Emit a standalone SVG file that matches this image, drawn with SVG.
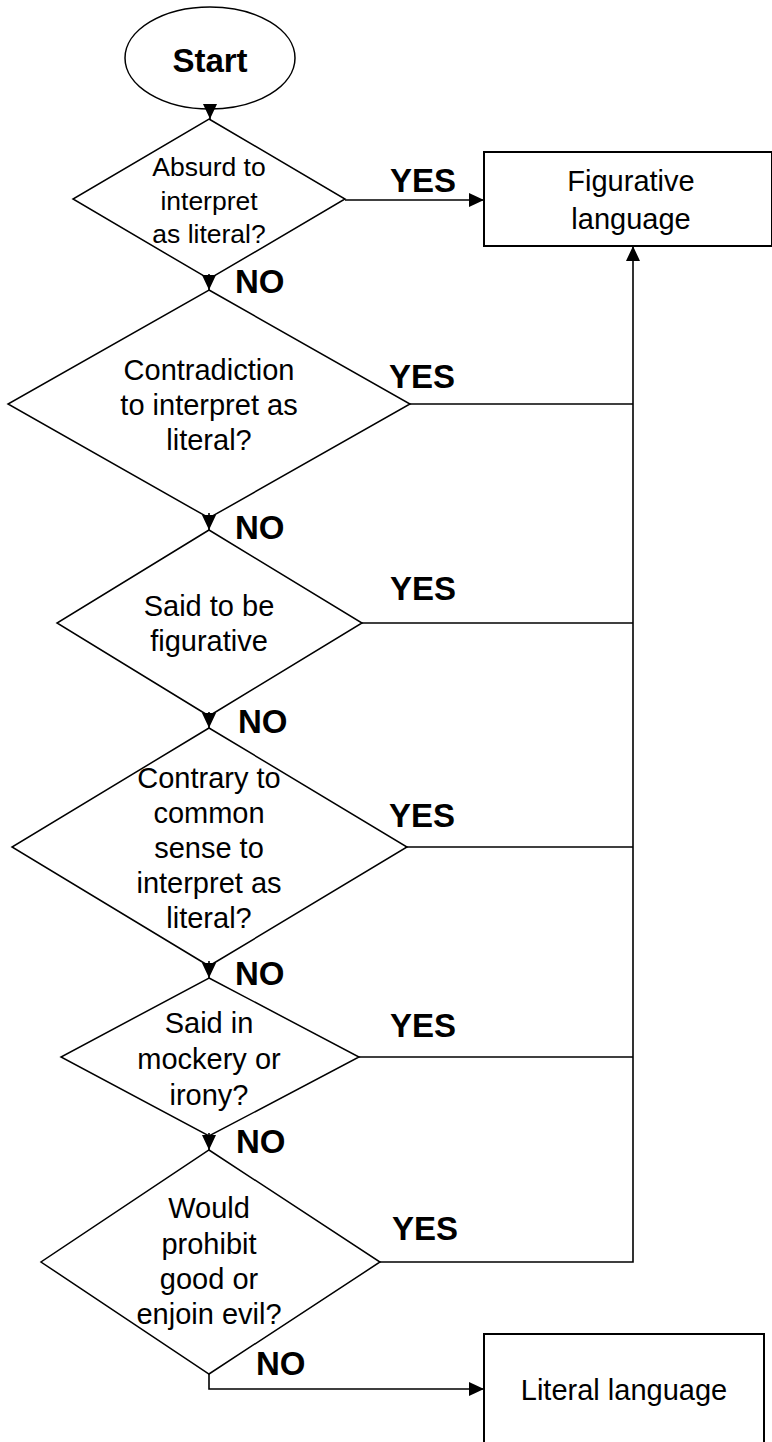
<svg xmlns="http://www.w3.org/2000/svg" width="772" height="1442" viewBox="0 0 772 1442">
<style>
.shape{fill:#fff;stroke:#000;stroke-width:1.5}
.box{fill:#fff;stroke:#000;stroke-width:2}
.conn{fill:none;stroke:#000;stroke-width:1.6}
.t{font-family:"Liberation Sans",Arial,sans-serif;font-size:29px;fill:#000;text-anchor:middle}
.t1{font-size:26.5px}
.lbl{font-family:"Liberation Sans",Arial,sans-serif;font-size:33px;font-weight:bold;fill:#000}
</style>
<defs>
<marker id="ah" markerWidth="15" markerHeight="14" refX="15" refY="7" orient="auto" markerUnits="userSpaceOnUse">
<path d="M0,0 L15,7 L0,14 Z" fill="#000"/>
</marker>
<marker id="ahs" markerWidth="15" markerHeight="14" refX="15" refY="7" orient="auto" markerUnits="userSpaceOnUse">
<path d="M0,0 L15,7 L0,14 Z" fill="#000"/>
</marker>
</defs>
<g id="start">
<ellipse class="shape" cx="210" cy="58" rx="85" ry="51"/>
<text class="lbl" x="210" y="72" text-anchor="middle" font-size="34">Start</text>
</g>
<g id="d1">
<polygon class="shape" points="209,119 345,199 209,279 73,199"/>
<text class="t t1" x="209"><tspan x="209" y="176">Absurd to</tspan><tspan x="209" y="210">interpret</tspan><tspan x="209" y="243">as literal?</tspan></text>
</g>
<g id="d2">
<polygon class="shape" points="209,290 410,404 209,518 8,404"/>
<text class="t"><tspan x="209" y="380">Contradiction</tspan><tspan x="209" y="415">to interpret as</tspan><tspan x="209" y="450">literal?</tspan></text>
</g>
<g id="d3">
<polygon class="shape" points="209,530 362,623 209,716 57,623"/>
<text class="t"><tspan x="209" y="616">Said to be</tspan><tspan x="209" y="651">figurative</tspan></text>
</g>
<g id="d4">
<polygon class="shape" points="209,728 407,847 209,966 12,847"/>
<text class="t"><tspan x="209" y="788">Contrary to</tspan><tspan x="209" y="823">common</tspan><tspan x="209" y="858">sense to</tspan><tspan x="209" y="893">interpret as</tspan><tspan x="209" y="928">literal?</tspan></text>
</g>
<g id="d5">
<polygon class="shape" points="209,978 359,1057 209,1136 61,1057"/>
<text class="t"><tspan x="209" y="1033">Said in</tspan><tspan x="209" y="1069">mockery or</tspan><tspan x="209" y="1105">irony?</tspan></text>
</g>
<g id="d6">
<polygon class="shape" points="209,1150 380,1262 209,1374 41,1262"/>
<text class="t"><tspan x="209" y="1218">Would</tspan><tspan x="209" y="1254">prohibit</tspan><tspan x="209" y="1289">good or</tspan><tspan x="209" y="1324">enjoin evil?</tspan></text>
</g>
<g id="figurative">
<rect class="box" x="484" y="152" width="288" height="94"/>
<text class="t"><tspan x="631" y="191">Figurative</tspan><tspan x="631" y="229">language</tspan></text>
</g>
<g id="literal">
<rect class="box" x="484" y="1334" width="280" height="130"/>
<text class="t" x="624" y="1400">Literal language</text>
</g>
<g id="connectors">
<line class="conn" x1="210" y1="104" x2="210" y2="119" marker-end="url(#ahs)"/>
<line class="conn" x1="345" y1="200" x2="484" y2="200" marker-end="url(#ah)"/>
<line class="conn" x1="209" y1="274" x2="209" y2="290" marker-end="url(#ahs)"/>
<line class="conn" x1="209" y1="513" x2="209" y2="530" marker-end="url(#ahs)"/>
<line class="conn" x1="209" y1="712" x2="209" y2="728" marker-end="url(#ahs)"/>
<line class="conn" x1="209" y1="961" x2="209" y2="978" marker-end="url(#ahs)"/>
<line class="conn" x1="209" y1="1133" x2="209" y2="1150" marker-end="url(#ahs)"/>
<line class="conn" x1="410" y1="404" x2="633" y2="404"/>
<line class="conn" x1="362" y1="623" x2="633" y2="623"/>
<line class="conn" x1="407" y1="847" x2="633" y2="847"/>
<line class="conn" x1="359" y1="1057" x2="633" y2="1057"/>
<polyline class="conn" points="380,1262 633,1262 633,246" marker-end="url(#ah)"/>
<polyline class="conn" points="209,1374 209,1389 484,1389" marker-end="url(#ah)"/>
</g>
<g id="labels">
<text class="lbl" x="390" y="192">YES</text>
<text class="lbl" x="389" y="388">YES</text>
<text class="lbl" x="390" y="600">YES</text>
<text class="lbl" x="389" y="827">YES</text>
<text class="lbl" x="390" y="1037">YES</text>
<text class="lbl" x="392" y="1240">YES</text>
<text class="lbl" x="235" y="293">NO</text>
<text class="lbl" x="235" y="539">NO</text>
<text class="lbl" x="238" y="733">NO</text>
<text class="lbl" x="235" y="985">NO</text>
<text class="lbl" x="236" y="1153">NO</text>
<text class="lbl" x="256" y="1375">NO</text>
</g>
</svg>
